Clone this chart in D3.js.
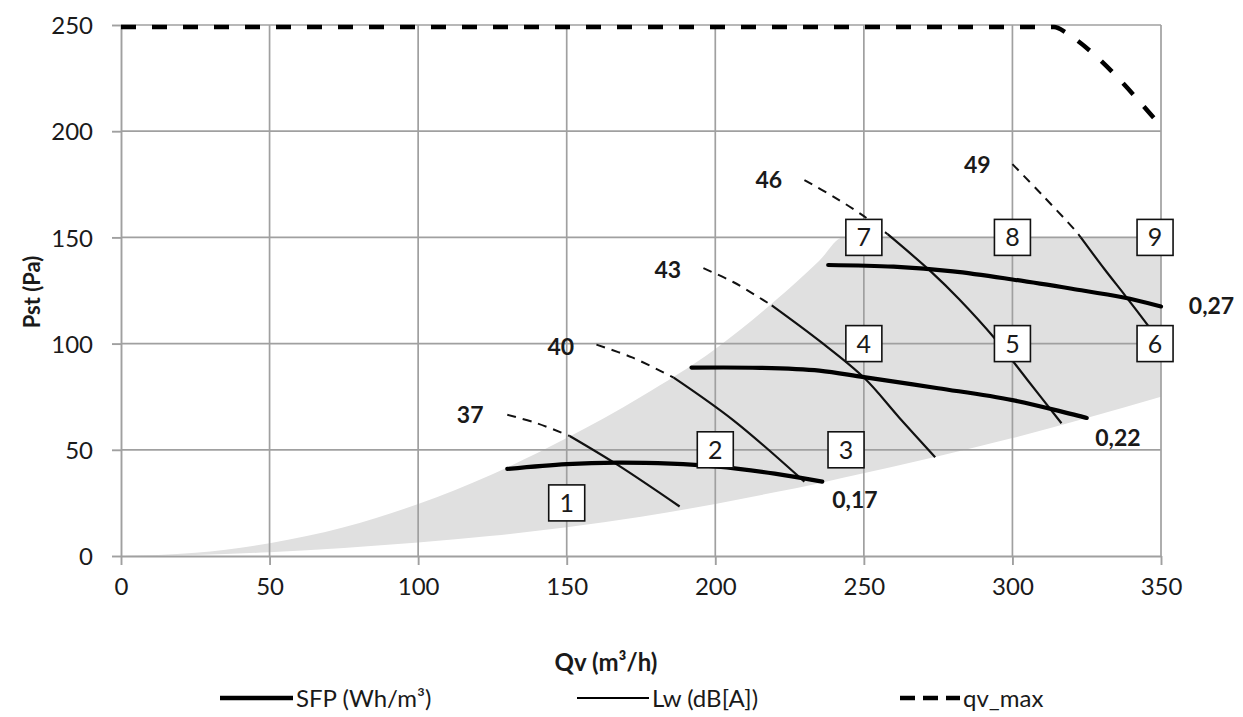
<!DOCTYPE html>
<html>
<head>
<meta charset="utf-8">
<script src="https://cdnjs.cloudflare.com/ajax/libs/d3/7.8.5/d3.min.js"></script>
<style>
  body { margin: 0; background: #fff; }
  text { font-family: Lato, "Open Sans", sans-serif; fill: #1a1a1a; }
</style>
</head>
<body>
<div id="chart"></div>
<script>
// working area (grey band)
var qvGrid  = [0, 25, 50, 75, 100, 125, 150, 175, 200, 220, 235, 243, 275, 300, 325, 350];
var pLower  = [0, 0.5, 1.8, 3.8, 6.3, 9.5, 13.5, 18.5, 24.5, 30, 34.3, 36.8, 47, 55.5, 65, 75];
var pUpper  = [0, 1.5, 6, 13.5, 24.5, 38.5, 55.5, 75, 97.5, 120, 139, 150, 150, 150, 150, 150];

// qv_max
var qvMax = [[0, 249], [314, 249], [318, 246.5], [322, 242.5], [349, 204]];

// SFP curves (Wh/m3)
var sfpLabels = ["0,17", "0,22", "0,27"];
var sfpCurves = [
  [[130, 41], [150, 43.3], [167, 44], [185, 43.5], [200, 42.2], [220, 38.8], [236, 35]],
  [[192, 88.7], [215, 88.6], [235, 87.3], [250, 84.2], [275, 79], [300, 73.4], [325, 65]],
  [[238, 137], [260, 136.2], [280, 134], [300, 130.2], [320, 125.8], [337, 121.8], [350, 117.5]]
];
var sfpLabelPos = [[247, 26.5], [335.5, 55.5], [367, 118]];

// Lw curves dB(A): dashed part outside the band, solid part inside
var lwLabels = ["37", "40", "43", "46", "49"];
var lwDashed = [
  [[130, 66.5], [140, 62.5], [151, 56.5]],
  [[160, 99.5], [172, 93.5], [186, 84]],
  [[196, 135.5], [206, 129], [215, 121.5], [219, 118]],
  [[230, 177], [240, 169], [250, 160], [258, 151.5]],
  [[300, 184.5], [310, 170], [321, 153.5], [323, 150]]
];
var lwSolid = [
  [[151, 56.5], [167, 43], [188, 23.3]],
  [[186, 84], [206, 64], [230, 35]],
  [[219, 118], [235.4, 100.9], [250, 84], [262, 65], [274, 46.5]],
  [[258, 151.5], [272.5, 134], [282, 121], [294, 102.5], [305, 83], [316.5, 62.5]],
  [[323, 150], [331, 135], [338, 122.5], [347, 106]]
];
var lwLabelPos = [[117.5, 66.4], [148, 98.4], [184, 134.6], [218, 177], [288.2, 184]];

// numbered operating points
var boxNums = ["1", "2", "3", "4", "5", "6", "7", "8", "9"];
var boxQv   = [150, 200, 244, 250, 300, 348, 250, 300, 348];
var boxPst  = [25, 50, 50, 100, 100, 100, 150, 150, 150];

var xTicks = [0, 50, 100, 150, 200, 250, 300, 350];
var yTicks = [0, 50, 100, 150, 200, 250];

var W = 1243, H = 717;
var x = d3.scaleLinear().domain([0, 350]).range([121, 1161]);
var y = d3.scaleLinear().domain([0, 250]).range([556, 25]);

var svg = d3.select("#chart").append("svg")
    .attr("width", W)
    .attr("height", H);

var gridColor = "#a0a0a0";

// grey band
var band = qvGrid.map(function(q, i){ return {q: q, lo: pLower[i], hi: pUpper[i]}; });
svg.append("path")
    .datum(band)
    .attr("d", d3.area()
        .x(function(d){ return x(d.q); })
        .y0(function(d){ return y(d.lo); })
        .y1(function(d){ return y(d.hi); })
        .curve(d3.curveMonotoneX))
    .style("fill", "#e0e0e0");

// grid
svg.append("g").selectAll("line")
    .data(xTicks.slice(1))
    .enter().append("line")
    .attr("x1", function(d){ return x(d); })
    .attr("x2", function(d){ return x(d); })
    .attr("y1", y(0))
    .attr("y2", y(250))
    .style("stroke", gridColor)
    .style("stroke-width", 1.7);

svg.append("g").selectAll("line")
    .data(yTicks.slice(1))
    .enter().append("line")
    .attr("x1", x(0))
    .attr("x2", x(350))
    .attr("y1", function(d){ return y(d); })
    .attr("y2", function(d){ return y(d); })
    .style("stroke", gridColor)
    .style("stroke-width", 1.7);

// axes
var xAxis = svg.append("g")
    .attr("transform", "translate(0," + y(0) + ")")
    .call(d3.axisBottom(x).tickValues(xTicks).tickSizeInner(9).tickSizeOuter(0).tickPadding(13));
var yAxis = svg.append("g")
    .attr("transform", "translate(" + x(0) + ",0)")
    .call(d3.axisLeft(y).tickValues(yTicks).tickSizeInner(9).tickSizeOuter(0).tickPadding(19));

[xAxis, yAxis].forEach(function(a){
    a.selectAll("path, line").style("stroke", gridColor).style("stroke-width", 1.9);
    a.selectAll("text")
        .style("font-size", "24px")
        .style("font-family", "Lato, sans-serif")
        .style("fill", "#1a1a1a");
});
yAxis.selectAll("text").attr("dy", "0.36em");

var line = d3.line()
    .x(function(d){ return x(d[0]); })
    .y(function(d){ return y(d[1]); })
    .curve(d3.curveCatmullRom);

// qv_max
svg.append("path")
    .datum(qvMax)
    .attr("d", d3.line().x(function(d){ return x(d[0]); }).y(function(d){ return y(d[1]); }).curve(d3.curveMonotoneX))
    .style("fill", "none")
    .style("stroke", "#000")
    .style("stroke-width", 4.5)
    .style("stroke-dasharray", "15,16");

// Lw lines
lwDashed.forEach(function(pts){
    svg.append("path")
        .datum(pts)
        .attr("d", line)
        .style("fill", "none")
        .style("stroke", "#111")
        .style("stroke-width", 2)
        .style("stroke-dasharray", "9,7");
});
lwSolid.forEach(function(pts){
    svg.append("path")
        .datum(pts)
        .attr("d", line)
        .style("fill", "none")
        .style("stroke", "#111")
        .style("stroke-width", 2.2);
});

// SFP lines
sfpCurves.forEach(function(pts){
    svg.append("path")
        .datum(pts)
        .attr("d", line)
        .style("fill", "none")
        .style("stroke", "#000")
        .style("stroke-width", 4.2)
        .style("stroke-linecap", "round");
});

// labels on curves
svg.append("g").selectAll("text")
    .data(lwLabels)
    .enter().append("text")
    .attr("x", function(d, i){ return x(lwLabelPos[i][0]); })
    .attr("y", function(d, i){ return y(lwLabelPos[i][1]); })
    .attr("dy", "0.36em")
    .attr("text-anchor", "middle")
    .style("font-size", "23px")
    .style("font-weight", "bold")
    .text(function(d){ return d; });

svg.append("g").selectAll("text")
    .data(sfpLabels)
    .enter().append("text")
    .attr("x", function(d, i){ return x(sfpLabelPos[i][0]); })
    .attr("y", function(d, i){ return y(sfpLabelPos[i][1]); })
    .attr("dy", "0.36em")
    .attr("text-anchor", "middle")
    .style("font-size", "23px")
    .style("font-weight", "bold")
    .text(function(d){ return d; });

// numbered boxes
var boxes = svg.append("g").selectAll("g")
    .data(boxNums)
    .enter().append("g")
    .attr("transform", function(d, i){ return "translate(" + [x(boxQv[i]), y(boxPst[i])] + ")"; });
boxes.append("rect")
    .attr("x", -18)
    .attr("y", -18)
    .attr("width", 36)
    .attr("height", 36)
    .style("fill", "#fff")
    .style("stroke", "#111")
    .style("stroke-width", 1.6);
boxes.append("text")
    .attr("text-anchor", "middle")
    .attr("dy", "0.36em")
    .style("font-size", "25px")
    .text(function(d){ return d; });

// axis titles
svg.append("text")
    .attr("transform", "translate(32,292) rotate(-90)")
    .attr("text-anchor", "middle")
    .attr("dy", "0.36em")
    .style("font-size", "22px")
    .style("font-weight", "bold")
    .text("Pst (Pa)");

svg.append("text")
    .attr("x", 606)
    .attr("y", 662)
    .attr("text-anchor", "middle")
    .attr("dy", "0.36em")
    .style("font-size", "24px")
    .style("font-weight", "bold")
    .text("Qv (m³/h)");

// legend
var legendItems = ["SFP (Wh/m³)", "Lw (dB[A])", "qv_max"];
var legendX = [220, 577, 900];
var legendLen = [73, 72, 60];
var legendStroke = [4.5, 2, 4.5];
var legendDash = [null, null, "15,8"];
var leg = svg.append("g").selectAll("g")
    .data(legendItems)
    .enter().append("g")
    .attr("transform", function(d, i){ return "translate(" + legendX[i] + ",698)"; });
leg.append("line")
    .attr("x1", 0)
    .attr("x2", function(d, i){ return legendLen[i]; })
    .style("stroke", "#000")
    .style("stroke-width", function(d, i){ return legendStroke[i]; })
    .style("stroke-dasharray", function(d, i){ return legendDash[i]; });
leg.append("text")
    .attr("x", function(d, i){ return legendLen[i] + 3; })
    .attr("dy", "0.36em")
    .style("font-size", "24px")
    .text(function(d){ return d; });
</script>
</body>
</html>
